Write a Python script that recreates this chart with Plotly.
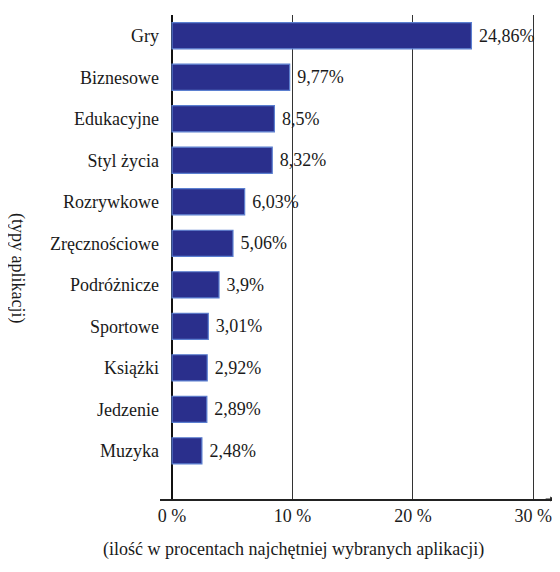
import plotly.graph_objects as go

categories = ["Gry", "Biznesowe", "Edukacyjne", "Styl życia", "Rozrywkowe",
              "Zręcznościowe", "Podróżnicze", "Sportowe", "Książki", "Jedzenie", "Muzyka"]
values = [24.86, 9.77, 8.5, 8.32, 6.03, 5.06, 3.9, 3.01, 2.92, 2.89, 2.48]
x_ticks = [0, 10, 20, 30]
x_tick_labels = ["0 %", "10 %", "20 %", "30 %"]

positions = list(range(len(categories)))
labels = [" " + f"{v:g}".replace(".", ",") + "%" for v in values]

FONT = "Liberation Serif"
FS = 18

fig = go.Figure(go.Bar(
    x=values, y=positions, orientation="h",
    width=0.63,
    marker=dict(color="#2a2f8c", line=dict(color="#5b7fd0", width=1.2)),
    text=labels, textposition="outside", cliponaxis=False,
    textfont=dict(family=FONT, size=FS, color="#1a1a1a"),
))

bottom = len(categories) - 1 + 1.16
fig.update_layout(
    width=552, height=556,
    margin=dict(l=152, r=5, t=7, b=65, autoexpand=False),
    paper_bgcolor="white", plot_bgcolor="white",
    showlegend=False,
    font=dict(family=FONT, size=FS, color="#1a1a1a"),
    xaxis=dict(
        range=[-1, 31.8], tickvals=x_ticks, ticktext=x_tick_labels,
        showgrid=True, gridcolor="#333333", gridwidth=1,
        zeroline=True, zerolinecolor="#111111", zerolinewidth=2,
        showline=True, linecolor="#222222", linewidth=1.5,
        ticks="", tickfont=dict(family=FONT, size=FS), automargin=False,
    ),
    yaxis=dict(
        range=[bottom, -0.5], tickvals=positions, ticktext=categories,
        showgrid=False, zeroline=False, showline=False, ticks="",
        tickfont=dict(family=FONT, size=FS), automargin=False,
    ),
)

fig.add_annotation(
    x=31.8, y=bottom, ax=30.9, ay=bottom, xref="x", yref="y", axref="x", ayref="y",
    showarrow=True, arrowhead=2, arrowsize=0.8, arrowwidth=1.2, arrowcolor="#222222", text="",
)
fig.add_annotation(
    text="(ilość w procentach najchętniej wybranych aplikacji)",
    xref="paper", yref="paper", x=(293 - 160) / 395, y=-(549 - 499) / 484,
    showarrow=False, font=dict(family=FONT, size=FS), xanchor="center", yanchor="middle",
)
fig.add_annotation(
    text="(typy aplikacji)", textangle=90,
    xref="paper", yref="paper", x=-(160 - 18) / 395, y=(499 - 268) / 484,
    showarrow=False, font=dict(family=FONT, size=FS), xanchor="center", yanchor="middle",
)

fig.write_html("out.html")
